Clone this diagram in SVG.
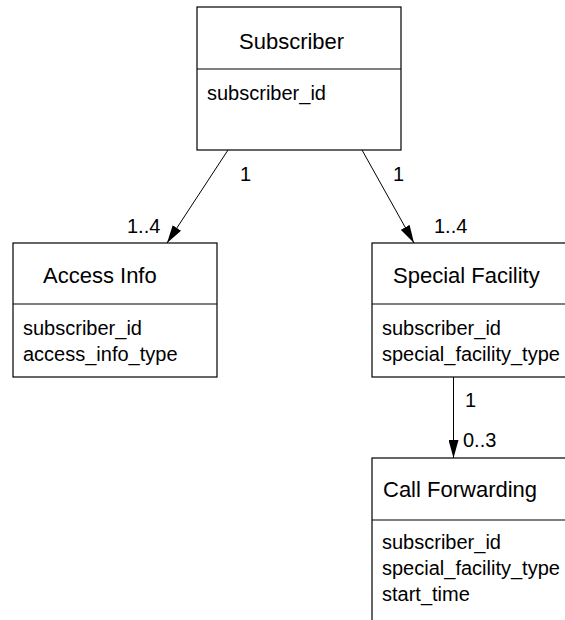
<svg xmlns="http://www.w3.org/2000/svg" width="565" height="620" viewBox="0 0 565 620">
  <style>
    .box { fill: #ffffff; stroke: #000000; stroke-width: 1.2; }
    .sep { stroke: #000000; stroke-width: 1.2; }
    .title { font-family: "Liberation Sans", Arial, sans-serif; font-size: 22px; fill: #000000; }
    .attr { font-family: "Liberation Sans", Arial, sans-serif; font-size: 20px; fill: #000000; }
    .mult { font-family: "Liberation Sans", Arial, sans-serif; font-size: 20px; fill: #000000; }
    .link { stroke: #000000; stroke-width: 1; fill: none; marker-end: url(#arrow); }
  </style>
  <defs>
    <marker id="arrow" viewBox="0 0 18 10" refX="18" refY="5" markerWidth="18" markerHeight="10" markerUnits="userSpaceOnUse" orient="auto">
      <path d="M0,0 L18,5 L0,10 Z" fill="#000000"/>
    </marker>
  </defs>
  <rect width="565" height="620" fill="#ffffff"/>

  <g id="connectors">
    <line class="link" x1="228" y1="150" x2="167" y2="243"/>
    <text class="mult" x="240" y="181">1</text>
    <text class="mult" x="127" y="233">1..4</text>

    <line class="link" x1="362" y1="150" x2="414" y2="243"/>
    <text class="mult" x="393" y="181">1</text>
    <text class="mult" x="434" y="233">1..4</text>

    <line class="link" x1="453.5" y1="377" x2="453.5" y2="458"/>
    <text class="mult" x="465" y="407">1</text>
    <text class="mult" x="463" y="447">0..3</text>
  </g>

  <g id="subscriber">
    <rect class="box" x="197" y="7" width="204" height="143"/>
    <line class="sep" x1="197" y1="69" x2="401" y2="69"/>
    <text class="title" x="239" y="49">Subscriber</text>
    <text class="attr" x="207" y="100">subscriber_id</text>
  </g>

  <g id="access-info">
    <rect class="box" x="13" y="243" width="204" height="134"/>
    <line class="sep" x1="13" y1="304" x2="217" y2="304"/>
    <text class="title" x="43" y="283">Access Info</text>
    <text class="attr" x="23" y="335">subscriber_id</text>
    <text class="attr" x="23" y="361">access_info_type</text>
  </g>

  <g id="special-facility">
    <rect class="box" x="372" y="243" width="204" height="134"/>
    <line class="sep" x1="372" y1="304" x2="576" y2="304"/>
    <text class="title" x="393" y="283">Special Facility</text>
    <text class="attr" x="382" y="335">subscriber_id</text>
    <text class="attr" x="382" y="361">special_facility_type</text>
  </g>

  <g id="call-forwarding">
    <rect class="box" x="372" y="458" width="204" height="180"/>
    <line class="sep" x1="372" y1="520" x2="576" y2="520"/>
    <text class="title" x="383" y="497">Call Forwarding</text>
    <text class="attr" x="382" y="549">subscriber_id</text>
    <text class="attr" x="382" y="575">special_facility_type</text>
    <text class="attr" x="382" y="601">start_time</text>
  </g>
</svg>
